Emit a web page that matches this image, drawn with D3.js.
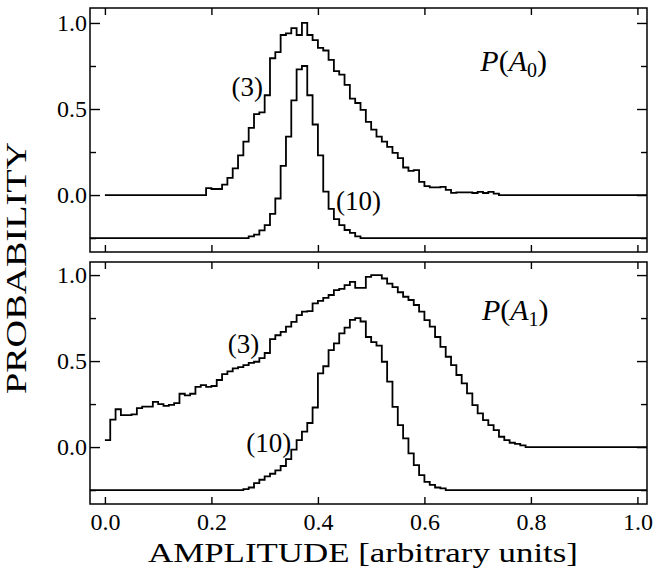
<!DOCTYPE html>
<html>
<head>
<meta charset="utf-8">
<script src="https://cdn.jsdelivr.net/npm/d3@7"></script>
<style>
  html, body { margin: 0; padding: 0; background: #fff; }
  svg { display: block; }
  text { font-family: "Liberation Serif", "DejaVu Serif", serif; fill: #000; }
  .tick text { font-family: "Liberation Serif", serif; font-size: 24px; fill: #000; }
</style>
</head>
<body>
<svg id="chart" width="655" height="578"></svg>
<script>
// ---------------- data ----------------
const binStart = 0.0;
const binWidth = 0.01;
const offset10 = -0.25;               // curves labelled (10) are shifted down
const xTicks = [0, 0.2, 0.4, 0.6, 0.8, 1.0];
const yMajorTicks = [0, 0.5, 1.0];
const yMinorTicks = [-0.25, 0.25, 0.75];
const xLabel = "AMPLITUDE [arbitrary units]";
const yLabel = "PROBABILITY";
const panelNames = ["A", "A"];
const panelSubs = ["0", "1"];

// P(A0), (3)
const top3 = [
  0,0,0,0,0,0,0,0,0,0, 0,0,0,0,0,0,0,0,0,0.04,
  0.035,0.035,0.06,0.10,0.155,0.23,0.31,0.39,0.47,0.48,
  0.58,0.795,0.83,0.93,0.94,0.97,0.93,1.0,0.93,0.90,
  0.855,0.84,0.785,0.72,0.70,0.64,0.56,0.535,0.495,0.425,
  0.38,0.34,0.31,0.28,0.245,0.215,0.16,0.14,0.145,0.077,
  0.052,0.045,0.045,0.048,0.03,0.013,0.015,0.015,0.015,0.012,
  0.018,0.012,0.018,0.008,0,0,0,0,0,0,
  0,0,0,0,0,0,0,0,0,0, 0,0,0,0,0,0,0,0,0,0
];
// P(A0), (10)
const top10 = [
  0,0,0,0,0,0,0,0,0,0, 0,0,0,0,0,0,0,0,0,0,
  0,0,0,0,0,0,0,0.01,0.02,0.045,
  0.075,0.14,0.23,0.42,0.59,0.80,0.98,1.0,0.83,0.66,
  0.48,0.27,0.17,0.11,0.075,0.047,0.03,0.01,0,0,
  0,0,0,0,0,0,0,0,0,0, 0,0,0,0,0,0,0,0,0,0,
  0,0,0,0,0,0,0,0,0,0, 0,0,0,0,0,0,0,0,0,0,
  0,0,0,0,0,0,0,0,0,0
];
// P(A1), (3)
const bot3 = [
  0.04,0.16,0.22,0.186,0.186,0.19,0.227,0.235,0.235,0.263,
  0.25,0.24,0.245,0.255,0.31,0.30,0.31,0.35,0.36,0.35,
  0.355,0.39,0.424,0.44,0.457,0.465,0.476,0.49,0.496,0.517,
  0.547,0.628,0.65,0.67,0.70,0.728,0.767,0.787,0.79,0.835,
  0.85,0.868,0.884,0.913,0.92,0.942,0.96,0.926,0.926,0.99,
  1.0,1.0,0.98,0.95,0.93,0.90,0.874,0.855,0.826,0.787,
  0.738,0.70,0.64,0.583,0.525,0.477,0.419,0.37,0.312,0.244,
  0.196,0.157,0.128,0.099,0.06,0.04,0.025,0.018,0.01,0,
  0,0,0,0,0,0,0,0,0,0, 0,0,0,0,0,0,0,0,0,0
];
// P(A1), (10)
const bot10 = [
  0,0,0,0,0,0,0,0,0,0, 0,0,0,0,0,0,0,0,0,0,
  0,0,0,0,0,0,0.005,0.015,0.04,0.06,
  0.08,0.095,0.115,0.14,0.18,0.235,0.29,0.34,0.39,0.48,
  0.678,0.72,0.814,0.853,0.911,0.945,0.99,1.0,0.98,0.89,
  0.86,0.84,0.746,0.63,0.484,0.378,0.30,0.213,0.145,0.087,
  0.048,0.03,0.015,0.01,0,0,0,0,0,0,
  0,0,0,0,0,0,0,0,0,0, 0,0,0,0,0,0,0,0,0,0,
  0,0,0,0,0,0,0,0,0,0
];

// label anchors (data coordinates)
const labels = [
  {panel: 0, text: "(3)",  x: 0.297, y: 0.575, anchor: "end"},
  {panel: 0, text: "(10)", x: 0.434, y: -0.085, anchor: "start"},
  {panel: 1, text: "(3)",  x: 0.290, y: 0.545, anchor: "end"},
  {panel: 1, text: "(10)", x: 0.350, y: -0.03, anchor: "end"}
];
const titlePos = [{x: 0.705, y: 0.72}, {x: 0.708, y: 0.74}];

// ---------------- layout ----------------
const svg = d3.select("#chart");
const frameL = 90, frameR = 647;
const panels = [
  {top: 8,   bottom: 252, domain: [-0.331, 1.087], c3: top3, c10: top10},
  {top: 262, bottom: 504, domain: [-0.331, 1.076], c3: bot3, c10: bot10}
];
const x = d3.scaleLinear().domain([-0.028, 1.018]).range([frameL, frameR]);
const fmt = d3.format(".1f");

panels.forEach((p, i) => {
  const y = d3.scaleLinear().domain(p.domain).range([p.bottom, p.top]);
  const g = svg.append("g");

  // histogram (3): starts at x = 0, runs to right frame
  const pts3 = p.c3.map((v, k) => [binStart + k * binWidth, v]);
  pts3.push([binStart + p.c3.length * binWidth, p.c3[p.c3.length - 1]]);
  pts3.push([x.domain()[1], p.c3[p.c3.length - 1]]);
  // histogram (10): baseline runs across the whole frame
  const pts10 = [[x.domain()[0], p.c10[0] + offset10]]
    .concat(p.c10.map((v, k) => [binStart + k * binWidth, v + offset10]));
  pts10.push([binStart + p.c10.length * binWidth, p.c10[p.c10.length - 1] + offset10]);
  pts10.push([x.domain()[1], p.c10[p.c10.length - 1] + offset10]);

  const line = d3.line().x(d => x(d[0])).y(d => y(d[1])).curve(d3.curveStepAfter);
  [pts3, pts10].forEach(pts => {
    g.append("path").attr("d", line(pts))
      .attr("fill", "none").attr("stroke", "#000")
      .attr("stroke-width", 1.8).attr("stroke-linejoin", "miter");
  });

  // frame
  g.append("rect").attr("x", frameL).attr("y", p.top)
    .attr("width", frameR - frameL).attr("height", p.bottom - p.top)
    .attr("fill", "none").attr("stroke", "#000").attr("stroke-width", 1.5);

  const styleAxis = sel => {
    sel.attr("font-size", null).attr("font-family", null);
    sel.select(".domain").remove();
    sel.selectAll(".tick line").attr("stroke", "#000").attr("stroke-width", 1.4);
    sel.selectAll(".tick text").style("font-size", "24px")
      .style("font-family", "'Liberation Serif', serif").style("fill", "#000");
  };

  // x axes (inward ticks)
  g.append("g").attr("transform", `translate(0,${p.bottom})`)
    .call(d3.axisBottom(x).tickValues(xTicks).tickSize(-7).tickPadding(9)
      .tickFormat(i === panels.length - 1 ? fmt : () => ""))
    .call(styleAxis);
  g.append("g").attr("transform", `translate(0,${p.top})`)
    .call(d3.axisTop(x).tickValues(xTicks).tickSize(-7).tickFormat(() => ""))
    .call(styleAxis);

  // y axes
  g.append("g").attr("transform", `translate(${frameL},0)`)
    .call(d3.axisLeft(y).tickValues(yMajorTicks).tickSize(-10).tickPadding(3).tickFormat(fmt))
    .call(styleAxis);
  g.append("g").attr("transform", `translate(${frameL},0)`)
    .call(d3.axisLeft(y).tickValues(yMinorTicks).tickSize(-6).tickFormat(() => ""))
    .call(styleAxis);
  g.append("g").attr("transform", `translate(${frameR},0)`)
    .call(d3.axisRight(y).tickValues(yMajorTicks).tickSize(-10).tickFormat(() => ""))
    .call(styleAxis);
  g.append("g").attr("transform", `translate(${frameR},0)`)
    .call(d3.axisRight(y).tickValues(yMinorTicks).tickSize(-6).tickFormat(() => ""))
    .call(styleAxis);

  // curve labels
  labels.filter(l => l.panel === i).forEach(l => {
    g.append("text").attr("x", x(l.x)).attr("y", y(l.y))
      .attr("text-anchor", l.anchor).attr("font-size", 27).text(l.text);
  });

  // panel title P(A_i)
  const t = g.append("text").attr("x", x(titlePos[i].x)).attr("y", y(titlePos[i].y))
    .attr("font-size", 30);
  t.append("tspan").attr("font-style", "italic").text("P");
  t.append("tspan").text("(");
  t.append("tspan").attr("font-style", "italic").text(panelNames[i]);
  t.append("tspan").attr("font-size", 20).attr("dy", 6).text(panelSubs[i]);
  t.append("tspan").attr("dy", -6).text(")");
});

// axis titles
svg.append("text").attr("x", 363).attr("y", 562).attr("text-anchor", "middle")
  .attr("font-size", 27).attr("textLength", 430).attr("lengthAdjust", "spacingAndGlyphs")
  .text(xLabel);
svg.append("text").attr("transform", "translate(26,268) rotate(-90)")
  .attr("text-anchor", "middle").attr("font-size", 30)
  .attr("textLength", 252).attr("lengthAdjust", "spacingAndGlyphs")
  .text(yLabel);
</script>
</body>
</html>
